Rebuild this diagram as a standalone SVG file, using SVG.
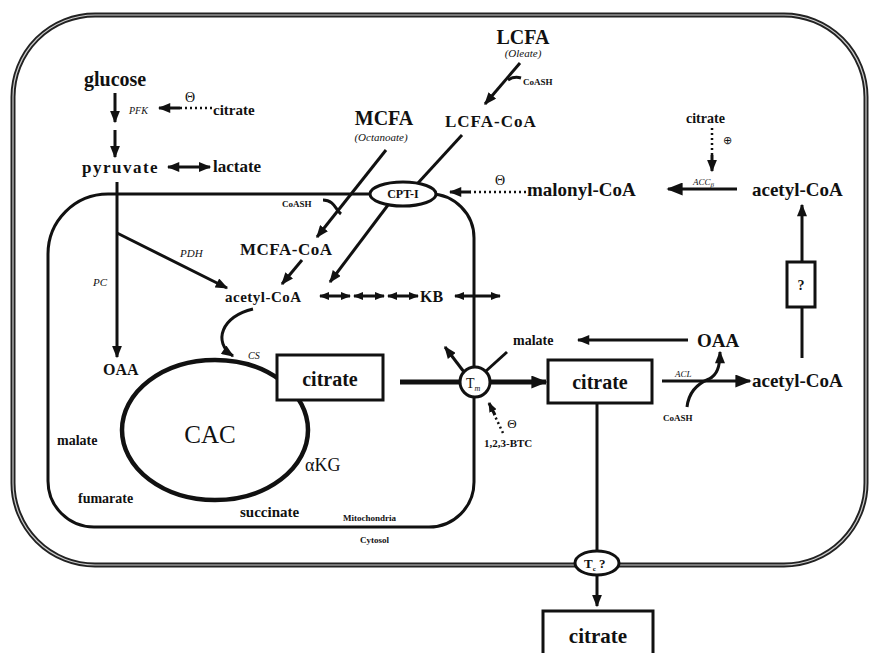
<svg xmlns="http://www.w3.org/2000/svg" width="870" height="653" viewBox="0 0 870 653">
<style>
text{font-family:"Liberation Serif","Times New Roman",serif;fill:#111}
.b{font-weight:bold}
.i{font-style:italic}
.m{text-anchor:middle}
.ln{fill:none;stroke:#111;stroke-width:3}
.tk{fill:none;stroke:#111;stroke-width:5}
.dot{fill:none;stroke:#111;stroke-width:2.5;stroke-dasharray:2 3}
.shape{fill:#fff;stroke:#111;stroke-width:3}
</style>
<defs>
<marker id="ah" viewBox="0 0 10 8" refX="9" refY="4" markerWidth="13" markerHeight="10" markerUnits="userSpaceOnUse" orient="auto-start-reverse"><path d="M0,0 L10,4 L0,8 z" fill="#111"/></marker>
<marker id="as" viewBox="0 0 10 8" refX="9" refY="4" markerWidth="10" markerHeight="8" markerUnits="userSpaceOnUse" orient="auto-start-reverse"><path d="M0,0 L10,4 L0,8 z" fill="#111"/></marker>
<marker id="al" viewBox="0 0 10 8" refX="9" refY="4" markerWidth="18" markerHeight="13" markerUnits="userSpaceOnUse" orient="auto-start-reverse"><path d="M0,0 L10,4 L0,8 z" fill="#111"/></marker>
</defs>

<g id="cell">
<rect x="13" y="15" width="853" height="550" rx="82" fill="none" stroke="#222" stroke-width="5"/>
<rect x="13" y="15" width="853" height="550" rx="82" fill="none" stroke="#ccc" stroke-width="1.2"/>
</g>
<g id="mitochondrion">
<path class="ln" d="M108,194 L430,194 A44,44 0 0 1 474,238 L474,482 A45,45 0 0 1 429,527 L94,527 A46,46 0 0 1 48,481 L48,254 A60,60 0 0 1 108,194 Z"/>
</g>

<g id="connectors">
<line class="ln" x1="115" y1="93" x2="115" y2="122" marker-end="url(#ah)"/>
<line class="ln" x1="115" y1="130" x2="115" y2="157" marker-end="url(#ah)"/>
<line class="dot" x1="212" y1="108" x2="180" y2="108"/>
<line class="ln" x1="180" y1="108" x2="159" y2="108" marker-end="url(#ah)"/>
<line class="ln" x1="168" y1="167" x2="210" y2="167" marker-start="url(#ah)" marker-end="url(#ah)"/>
<line class="ln" x1="117" y1="182" x2="117" y2="357" marker-end="url(#ah)"/>
<line class="ln" x1="117" y1="233" x2="227" y2="288" marker-end="url(#ah)"/>
<line class="ln" x1="386" y1="150" x2="317" y2="237" marker-end="url(#ah)"/>
<path class="ln" stroke-width="2.5" d="M323,200 C334,200 336,210 341,214"/>
<line class="ln" x1="302" y1="260" x2="282" y2="284" marker-end="url(#ah)"/>
<line class="ln" x1="462" y1="135" x2="418" y2="183"/>
<line class="ln" x1="388" y1="205" x2="330" y2="282" marker-end="url(#ah)"/>
<line class="ln" x1="520" y1="63" x2="485" y2="104" marker-end="url(#ah)"/>
<path class="ln" stroke-width="2.5" d="M508,80 Q514,76 521,78"/>
<line class="ln" stroke-width="2.5" x1="320" y1="296" x2="350" y2="296" marker-start="url(#as)" marker-end="url(#as)"/>
<line class="ln" stroke-width="2.5" x1="354" y1="296" x2="384" y2="296" marker-start="url(#as)" marker-end="url(#as)"/>
<line class="ln" stroke-width="2.5" x1="388" y1="296" x2="418" y2="296" marker-start="url(#as)" marker-end="url(#as)"/>
<line class="ln" stroke-width="2.5" x1="455" y1="296" x2="500" y2="296" marker-start="url(#as)" marker-end="url(#as)"/>
<path class="ln" d="M253,309 C222,316 212,342 233,356" marker-end="url(#ah)"/>
<line class="tk" x1="400" y1="382" x2="462" y2="382"/>
<line class="tk" x1="488" y1="382" x2="546" y2="382" marker-end="url(#al)"/>
<line class="ln" x1="464" y1="372" x2="445" y2="347" marker-end="url(#ah)"/>
<line class="ln" x1="486" y1="371" x2="507" y2="352"/>
<line class="dot" x1="503" y1="433" x2="494" y2="414"/>
<line class="ln" stroke-width="2.5" x1="495" y1="415" x2="489" y2="403" marker-end="url(#as)"/>
<line class="ln" x1="688" y1="340" x2="578" y2="340" marker-end="url(#ah)"/>
<line class="ln" stroke-width="4" x1="662" y1="381" x2="750" y2="381" marker-end="url(#al)"/>
<path class="ln" d="M687,407 C689,390 699,383 709,379 C717,375 720,367 720,352" marker-end="url(#ah)"/>
<line class="ln" x1="802" y1="358" x2="802" y2="307"/>
<line class="ln" x1="802" y1="262" x2="802" y2="205" marker-end="url(#ah)"/>
<line class="ln" stroke-width="3.5" x1="737" y1="189" x2="668" y2="189" marker-end="url(#al)"/>
<line class="dot" x1="526" y1="192" x2="470" y2="192"/>
<line class="ln" x1="471" y1="192" x2="450" y2="192" marker-end="url(#ah)"/>
<line class="dot" x1="712" y1="128" x2="712" y2="155"/>
<line class="ln" x1="712" y1="155" x2="712" y2="171" marker-end="url(#ah)"/>
<line class="ln" x1="597" y1="403" x2="597" y2="551"/>
<line class="ln" x1="597" y1="575" x2="597" y2="606" marker-end="url(#ah)"/>
</g>

<g id="CAC"><ellipse cx="215" cy="430" rx="93" ry="70" fill="none" stroke="#111" stroke-width="4.5"/>
<text x="210" y="443" class="m" font-size="25">CAC</text></g>
<g id="citrate-mito"><rect class="shape" x="277" y="355" width="106" height="45"/>
<text x="330" y="386" class="b m" font-size="20">citrate</text></g>
<g id="CPT-I"><ellipse class="shape" cx="403" cy="194" rx="33" ry="12"/>
<text x="403" y="198" class="b m" font-size="12">CPT-I</text></g>
<g id="Tm"><circle class="shape" cx="475" cy="382" r="15"/>
<text x="466" y="388" font-size="14">T<tspan font-size="8" font-style="italic" dy="3">m</tspan></text></g>
<g id="Tc"><ellipse class="shape" cx="597" cy="563" rx="22" ry="12"/>
<text x="584" y="568" class="b" font-size="13">T<tspan font-size="7" dy="3">c</tspan><tspan dy="-3"> ?</tspan></text></g>
<g id="citrate-cyto"><rect class="shape" x="548" y="360" width="104" height="43"/>
<text x="600" y="389" class="b m" font-size="20">citrate</text></g>
<g id="citrate-out"><rect class="shape" x="543" y="611" width="110" height="52"/>
<text x="598" y="643" class="b m" font-size="21">citrate</text></g>
<g id="unknown"><rect class="shape" x="787" y="262" width="28" height="45"/>
<text x="801" y="290" class="b m" font-size="14">?</text></g>

<g id="labels">
<text x="84" y="86" class="b" font-size="20">glucose</text>
<text x="129" y="114" class="i" font-size="10">PFK</text>
<text x="190" y="102" class="m" font-size="14">Θ</text>
<text x="213" y="115" class="b" font-size="15">citrate</text>
<text x="82" y="173" class="b" font-size="17" letter-spacing="1.5">pyruvate</text>
<text x="213" y="172" class="b" font-size="17">lactate</text>
<text x="384" y="125" class="b m" font-size="20">MCFA</text>
<text x="381" y="141" class="i m" font-size="11">(Octanoate)</text>
<text x="523" y="44" class="b m" font-size="20">LCFA</text>
<text x="523" y="57" class="i m" font-size="11">(Oleate)</text>
<text x="523" y="85" class="b" font-size="9">CoASH</text>
<text x="445" y="127" class="b" font-size="17" letter-spacing="1">LCFA-CoA</text>
<text x="282" y="207" class="b" font-size="9">CoASH</text>
<text x="240" y="255" class="b" font-size="17" letter-spacing="0.5">MCFA-CoA</text>
<text x="180" y="257" class="i" font-size="11">PDH</text>
<text x="93" y="286" class="i" font-size="11">PC</text>
<text x="225" y="302" class="b" font-size="15" letter-spacing="0.5">acetyl-CoA</text>
<text x="420" y="302" class="b" font-size="16">KB</text>
<text x="248" y="359" class="i" font-size="10">CS</text>
<text x="103" y="375" class="b" font-size="16">OAA</text>
<text x="57" y="445" class="b" font-size="14">malate</text>
<text x="78" y="503" class="b" font-size="14">fumarate</text>
<text x="240" y="517" class="b" font-size="15">succinate</text>
<text x="305" y="471" font-size="18">αKG</text>
<text x="343" y="521" class="b" font-size="9">Mitochondria</text>
<text x="360" y="543" class="b" font-size="9">Cytosol</text>
<text x="513" y="345" class="b" font-size="14">malate</text>
<text x="697" y="347" class="b" font-size="19">OAA</text>
<text x="675" y="377" class="i" font-size="9">ACL</text>
<text x="663" y="421" class="b" font-size="9">CoASH</text>
<text x="752" y="387" class="b" font-size="19">acetyl-CoA</text>
<text x="752" y="196" class="b" font-size="19">acetyl-CoA</text>
<text x="527" y="196" class="b" font-size="19">malonyl-CoA</text>
<text x="500" y="185" class="m" font-size="14">Θ</text>
<text x="693" y="185" class="i" font-size="9">ACC<tspan font-size="7" dy="2">β</tspan></text>
<text x="686" y="123" class="b" font-size="14">citrate</text>
<text x="727" y="144" class="m" font-size="11">⊕</text>
<text x="484" y="447" class="b" font-size="11">1,2,3-BTC</text>
<text x="512" y="428" class="m" font-size="13">Θ</text>
</g>
</svg>
